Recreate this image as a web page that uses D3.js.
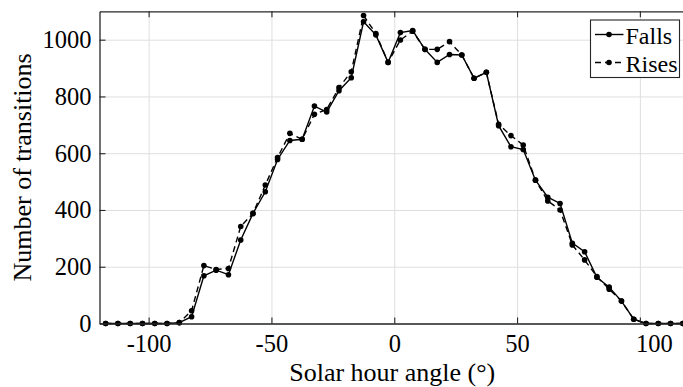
<!DOCTYPE html>
<html>
<head>
<meta charset="utf-8">
<script src="https://cdn.jsdelivr.net/npm/d3@7"></script>
<style>
  html, body { margin: 0; padding: 0; background: #fff; }
  svg { display: block; }
  svg text { font-family: "Liberation Serif", "Times New Roman", serif !important; fill: #000; }
</style>
</head>
<body>
<svg id="chart" width="683" height="387"></svg>
<script>
// Hour-angle bin centres (degrees)
const angles = [-117.5, -112.5, -107.5, -102.5, -97.5, -92.5, -87.5, -82.5, -77.5, -72.5,
  -67.5, -62.5, -57.5, -52.5, -47.5, -42.5, -37.5, -32.5, -27.5, -22.5,
  -17.5, -12.5, -7.5, -2.5, 2.5, 7.5, 12.5, 17.5, 22.5, 27.5,
  32.5, 37.5, 42.5, 47.5, 52.5, 57.5, 62.5, 67.5, 72.5, 77.5,
  82.5, 87.5, 92.5, 97.5, 102.5, 107.5, 112.5, 117.5];

// Transition counts per bin
const falls = [0, 0, 0, 0, 0, 0, 3, 24, 168, 188,
  172, 294, 388, 464, 578, 645, 649, 766, 745, 820,
  866, 1063, 1017, 920, 1025, 1032, 966, 920, 948, 946,
  864, 885, 697, 623, 613, 505, 445, 423, 283, 253,
  163, 128, 79, 15, 0, 0, 0, 0];

const rises = [0, 0, 0, 0, 0, 0, 3, 45, 204, 190,
  194, 342, 388, 488, 585, 670, 649, 737, 754, 831,
  887, 1085, 1022, 920, 999, 1030, 966, 966, 993, 946,
  864, 885, 702, 662, 629, 505, 432, 400, 277, 224,
  165, 121, 79, 15, 0, 0, 0, 0];

const seriesNames = ["Falls", "Rises"];
const xTicks = [-100, -50, 0, 50, 100];
const yTicks = [0, 200, 400, 600, 800, 1000];
const xLabel = "Solar hour angle (\u00B0)";
const yLabel = "Number of transitions";

(function draw() {
  const svg = d3.select("#chart");
  const axisColor = "#262626";
  const gridColor = "#dfdfdf";

  const plotL = 99.5, plotR = 689, plotT = 11.3, plotB = 323.5;

  const x = d3.scaleLinear().domain([-120, 120]).range([plotL, plotR]);
  const y = d3.scaleLinear().domain([0, 1100]).range([plotB, plotT]);

  // Grid
  const grid = svg.append("g");
  grid.append("g")
    .attr("transform", `translate(0,${plotB})`)
    .call(d3.axisBottom(x).tickValues(xTicks).tickSize(-(plotB - plotT)).tickFormat(""))
    .call(g => g.select(".domain").remove())
    .call(g => g.selectAll("line").attr("stroke", gridColor).attr("stroke-width", 1));
  grid.append("g")
    .attr("transform", `translate(${plotL},0)`)
    .call(d3.axisLeft(y).tickValues(yTicks).tickSize(-(plotR - plotL)).tickFormat(""))
    .call(g => g.select(".domain").remove())
    .call(g => g.selectAll("line").attr("stroke", gridColor).attr("stroke-width", 1));

  // Series
  const series = [
    { name: seriesNames[0], values: falls, dash: null },
    { name: seriesNames[1], values: rises, dash: "6,4" }
  ];

  const line = d3.line().x(d => x(d[0])).y(d => y(d[1]));

  series.slice().reverse().forEach(s => {
    const pts = angles.map((a, i) => [a, s.values[i]]);
    svg.append("path")
      .datum(pts)
      .attr("d", line)
      .attr("fill", "none")
      .attr("stroke", "#000")
      .attr("stroke-width", 1.4)
      .attr("stroke-dasharray", s.dash);
    svg.append("g").selectAll("circle")
      .data(pts)
      .join("circle")
      .attr("cx", d => x(d[0]))
      .attr("cy", d => y(d[1]))
      .attr("r", 2.8)
      .attr("fill", "#000");
  });

  // Axes (box with inward ticks)
  const tickLen = 6;
  const styleAxis = g => {
    g.attr("font-family", null);
    g.select(".domain").attr("stroke", axisColor).attr("stroke-width", 1.3);
    g.selectAll(".tick line").attr("stroke", axisColor).attr("stroke-width", 1.1);
    g.selectAll("text").style("font-size", "24.5px");
  };

  svg.append("g")
    .attr("transform", `translate(0,${plotB})`)
    .call(d3.axisBottom(x).tickValues(xTicks).tickSizeInner(-tickLen).tickSizeOuter(0)
      .tickPadding(11).tickFormat(d => String(d)))
    .call(styleAxis)
    .call(g => g.selectAll(".tick text").filter(d => d === 100).attr("dx", 14));

  svg.append("g")
    .attr("transform", `translate(0,${plotT})`)
    .call(d3.axisTop(x).tickValues(xTicks).tickSizeInner(-tickLen).tickSizeOuter(0).tickFormat(""))
    .call(styleAxis);

  svg.append("g")
    .attr("transform", `translate(${plotL},0)`)
    .call(d3.axisLeft(y).tickValues(yTicks).tickSizeInner(-tickLen).tickSizeOuter(0)
      .tickPadding(8).tickFormat(d => String(d)))
    .call(styleAxis);

  svg.append("g")
    .attr("transform", `translate(${plotR},0)`)
    .call(d3.axisRight(y).tickValues(yTicks).tickSizeInner(-tickLen).tickSizeOuter(0).tickFormat(""))
    .call(styleAxis);

  // Axis titles
  svg.append("text")
    .attr("x", (x(-120) + x(120)) / 2 - 2)
    .attr("y", 381)
    .attr("text-anchor", "middle")
    .style("font-size", "26px")
    .text(xLabel);

  svg.append("text")
    .attr("transform", `translate(31,${(plotT + plotB) / 2}) rotate(-90)`)
    .attr("text-anchor", "middle")
    .style("font-size", "26px")
    .text(yLabel);

  // Legend
  const lg = svg.append("g").attr("transform", "translate(590.5,20)");
  lg.append("rect")
    .attr("width", 89).attr("height", 57.5)
    .attr("fill", "#fff").attr("stroke", axisColor).attr("stroke-width", 1.1);
  series.forEach((s, i) => {
    const cy = 14.5 + i * 28;
    lg.append("line")
      .attr("x1", 4.5).attr("x2", 33).attr("y1", cy).attr("y2", cy)
      .attr("stroke", "#000").attr("stroke-width", 1.4)
      .attr("stroke-dasharray", s.dash);
    lg.append("circle").attr("cx", 18.5).attr("cy", cy).attr("r", 2.8).attr("fill", "#000");
    lg.append("text")
      .attr("x", 35).attr("y", cy + 9)
      .style("font-size", "24px")
      .text(s.name);
  });
})();
</script>
</body>
</html>
